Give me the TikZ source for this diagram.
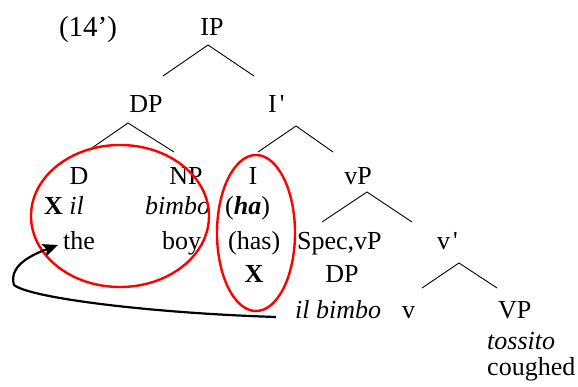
\documentclass[tikz,border=0pt]{standalone}
\usepackage{fontspec}
\setmainfont{Liberation Serif}
\usetikzlibrary{arrows.meta}
\begin{document}
\begin{tikzpicture}[x=1pt,y=-1pt,
  every node/.style={inner sep=0pt, font=\fontsize{26pt}{30pt}\selectfont},
  lab/.style={anchor=base},
  labw/.style={anchor=base west},
  branch/.style={line width=0.9pt},
  ring/.style={draw=red, line width=2.4pt},
  move/.style={line width=2.2pt, -{Stealth[length=15pt,width=13pt,inset=3pt]}}]
\useasboundingbox (0,0) rectangle (578,387);
\node[lab, font=\fontsize{29pt}{32pt}\selectfont] (ex) at (88,37) {(14')};
\node[lab] (ip) at (212,36) {IP};
\node[lab] (dp) at (146,113) {DP};
\node[labw] (ib) at (268,113) {I\hspace{3pt}\textquotesingle};
\node[lab] (d) at (79,185) {D};
\node[lab] (np) at (186,185) {NP};
\node[lab] (i) at (253,185) {I};
\node[lab] (vp) at (358,185) {vP};
\node[labw] (il) at (44,215) {\textbf{X} \textit{il}};
\node[labw] (bimbo) at (145,215) {\textit{bimbo}};
\node[labw] (ha) at (225,215) {(\textbf{\textit{ha}})};
\node[labw] (the) at (63,250) {the};
\node[labw] (boy) at (162,250) {boy};
\node[labw] (has) at (228,250) {(has)};
\node[labw] (spec) at (297,250) {Spec,vP};
\node[labw] (vb) at (437,250) {v\hspace{3pt}\textquotesingle};
\node[lab] (x) at (254,283) {\textbf{X}};
\node[lab] (sdp) at (342,283) {DP};
\node[labw] (ilb) at (295,318) {\textit{il bimbo}};
\node[labw] (v) at (402,318) {v};
\node[labw] (vpl) at (498,318) {VP};
\node[labw, text depth=0pt] (toss) at (487,349) {\textit{tossito}};
\node[labw, text height=17pt] (cough) at (487,375) {coughed};
% branches
\draw[branch] ([shift={(-49pt,-40pt)}]ip.base) -- ([shift={(-4pt,-9pt)}]ip.base) -- ([shift={(42pt,-40pt)}]ip.base);
\draw[branch] ([shift={(-57pt,-37pt)}]dp.base) -- ([shift={(-18pt,-10pt)}]dp.base) -- ([shift={(28pt,-39pt)}]dp.base);
\draw[branch] ([shift={(-10pt,-39pt)}]ib.base west) -- ([shift={(28pt,-13pt)}]ib.base west) -- ([shift={(65pt,-39pt)}]ib.base west);
\draw[branch] ([shift={(-36pt,-37pt)}]vp.base) -- ([shift={(9pt,-7pt)}]vp.base) -- ([shift={(54pt,-37pt)}]vp.base);
\draw[branch] ([shift={(-15pt,-38pt)}]vb.base west) -- ([shift={(22pt,-13pt)}]vb.base west) -- ([shift={(60pt,-38pt)}]vb.base west);
% circled groups
\draw[ring] (120,216) ellipse [x radius=89pt, y radius=71pt];
\draw[ring] (256,233) ellipse [x radius=39pt, y radius=78pt];
% movement
\draw[move] ([shift={(-19pt,1pt)}]ilb.base west) .. controls (150,313) and (30,298) .. (14,285)
  .. controls (8,265) and (34,254) .. ([shift={(-5pt,5pt)}]the.base west);
\end{tikzpicture}
\end{document}
